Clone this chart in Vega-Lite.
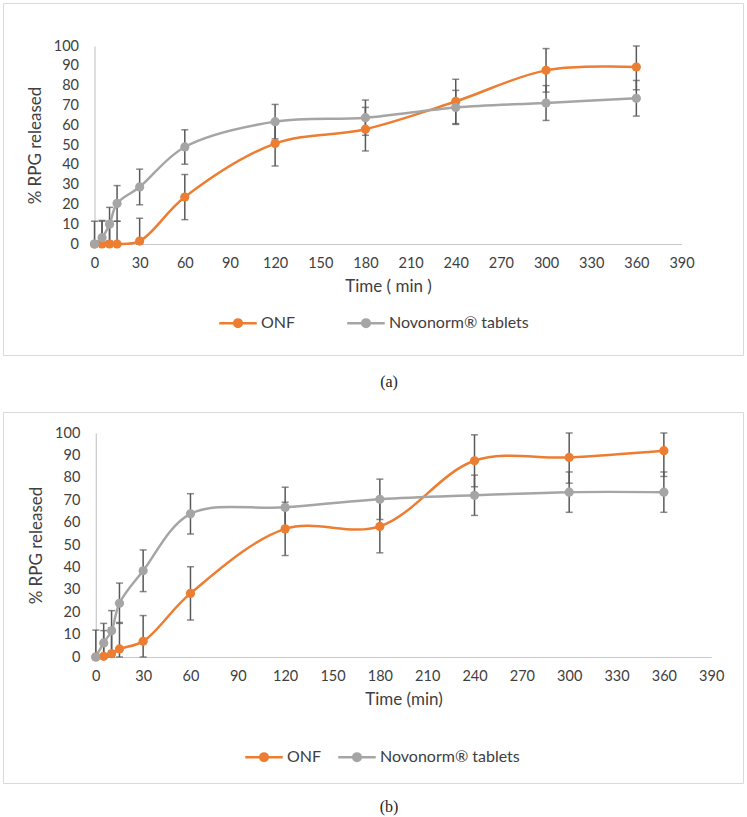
{
  "$schema": "https://vega.github.io/schema/vega-lite/v6.json",
  "padding": {"left": 2, "top": 2, "right": 0, "bottom": 0},
  "background": "white",
  "data": {"values": [
    {"p":"a","s":"ONF","t":0,"m":0,"e":11.5},
    {"p":"a","s":"ONF","t":5,"m":0,"e":11.5},
    {"p":"a","s":"ONF","t":10,"m":0,"e":11.5},
    {"p":"a","s":"ONF","t":15,"m":0,"e":11.5},
    {"p":"a","s":"ONF","t":30,"m":1.5,"e":11.5},
    {"p":"a","s":"ONF","t":60,"m":23.7,"e":11.4},
    {"p":"a","s":"ONF","t":120,"m":50.7,"e":11.3},
    {"p":"a","s":"ONF","t":180,"m":58,"e":11},
    {"p":"a","s":"ONF","t":240,"m":72,"e":11.2},
    {"p":"a","s":"ONF","t":300,"m":87.7,"e":11},
    {"p":"a","s":"ONF","t":360,"m":89.4,"e":11.5},
    {"p":"a","s":"Novonorm® tablets","t":0,"m":0,"e":0},
    {"p":"a","s":"Novonorm® tablets","t":5,"m":3.2,"e":8.7},
    {"p":"a","s":"Novonorm® tablets","t":10,"m":10,"e":8.5},
    {"p":"a","s":"Novonorm® tablets","t":15,"m":20.5,"e":9},
    {"p":"a","s":"Novonorm® tablets","t":30,"m":28.8,"e":9},
    {"p":"a","s":"Novonorm® tablets","t":60,"m":49,"e":8.7},
    {"p":"a","s":"Novonorm® tablets","t":120,"m":61.8,"e":8.7},
    {"p":"a","s":"Novonorm® tablets","t":180,"m":63.8,"e":8.9},
    {"p":"a","s":"Novonorm® tablets","t":240,"m":69,"e":8.6},
    {"p":"a","s":"Novonorm® tablets","t":300,"m":71.2,"e":8.8},
    {"p":"a","s":"Novonorm® tablets","t":360,"m":73.6,"e":9},
    {"p":"b","s":"ONF","t":0,"m":0,"e":12},
    {"p":"b","s":"ONF","t":5,"m":0.3,"e":11.5},
    {"p":"b","s":"ONF","t":10,"m":1.5,"e":11.5},
    {"p":"b","s":"ONF","t":15,"m":3.6,"e":11.8},
    {"p":"b","s":"ONF","t":30,"m":7,"e":11.5},
    {"p":"b","s":"ONF","t":60,"m":28.4,"e":11.9},
    {"p":"b","s":"ONF","t":120,"m":57.2,"e":11.9},
    {"p":"b","s":"ONF","t":180,"m":58.3,"e":11.8},
    {"p":"b","s":"ONF","t":240,"m":87.6,"e":11.6},
    {"p":"b","s":"ONF","t":300,"m":89.1,"e":11.5},
    {"p":"b","s":"ONF","t":360,"m":92.1,"e":11.5},
    {"p":"b","s":"Novonorm® tablets","t":0,"m":0,"e":0},
    {"p":"b","s":"Novonorm® tablets","t":5,"m":6.3,"e":8.7},
    {"p":"b","s":"Novonorm® tablets","t":10,"m":11.7,"e":9},
    {"p":"b","s":"Novonorm® tablets","t":15,"m":24,"e":9},
    {"p":"b","s":"Novonorm® tablets","t":30,"m":38.5,"e":9.3},
    {"p":"b","s":"Novonorm® tablets","t":60,"m":63.9,"e":9},
    {"p":"b","s":"Novonorm® tablets","t":120,"m":66.8,"e":9},
    {"p":"b","s":"Novonorm® tablets","t":180,"m":70.4,"e":9},
    {"p":"b","s":"Novonorm® tablets","t":240,"m":72.2,"e":9},
    {"p":"b","s":"Novonorm® tablets","t":300,"m":73.6,"e":9},
    {"p":"b","s":"Novonorm® tablets","t":360,"m":73.6,"e":9}
  ]},
  "spacing": 20,
  "resolve": {"legend": {"color": "independent"}},
  "vconcat": [
    {
      "width": 740,
      "height": 352,
      "title": {"text": "(a)", "orient": "bottom", "anchor": "middle", "offset": 19, "dx": 16},
      "transform": [{"filter": "datum.p == 'a'"}],
      "encoding": {
        "x": {"field": "t", "type": "quantitative",
          "scale": {"domain": [0, 390], "range": [91.5, 678.5], "nice": false},
          "axis": {"values": [0,30,60,90,120,150,180,210,240,270,300,330,360,390], "offset": -111, "title": "Time ( min )"}},
        "y": {"field": "m", "type": "quantitative",
          "scale": {"domain": [0, 100], "range": [241, 43], "nice": false, "clamp": true},
          "axis": {"values": [0,10,20,30,40,50,60,70,80,90,100], "offset": -91.5, "title": "% RPG released"}}
      },
      "layer": [
        {"mark": {"type": "errorbar", "color": "#595959", "thickness": 1.5, "ticks": {"size": 7, "color": "#595959", "strokeWidth": 1.5}},
         "encoding": {"yError": {"field": "e"}, "detail": {"field": "s"}}},
        {"mark": {"type": "line", "interpolate": "catmull-rom", "strokeWidth": 2.5},
         "encoding": {"color": {"field": "s", "type": "nominal", "scale": {"domain": ["ONF", "Novonorm® tablets"], "range": ["#ED7D31", "#A5A5A5"]},
           "legend": {"orient": "none", "direction": "horizontal", "legendX": 215, "legendY": 300, "columnPadding": 46,
             "encode": {"symbols": {"update": {"fill": {"scale": "color", "field": "value"}, "stroke": {"scale": "color", "field": "value"}, "strokeWidth": {"value": 2.5}}}}}}}},
        {"mark": {"type": "point", "filled": true, "size": 85, "opacity": 1},
         "encoding": {"color": {"field": "s", "type": "nominal",
           "legend": {"orient": "none", "direction": "horizontal", "legendX": 215, "legendY": 300, "columnPadding": 46,
             "encode": {"symbols": {"update": {"fill": {"scale": "color", "field": "value"}, "stroke": {"scale": "color", "field": "value"}, "strokeWidth": {"value": 2.5}}}}}}}}
      ]
    },
    {
      "width": 740,
      "height": 371,
      "title": {"text": "(b)", "orient": "bottom", "anchor": "middle", "offset": 16, "dx": 16},
      "transform": [{"filter": "datum.p == 'b'"}],
      "encoding": {
        "x": {"field": "t", "type": "quantitative",
          "scale": {"domain": [0, 390], "range": [92.8, 708.2], "nice": false},
          "axis": {"values": [0,30,60,90,120,150,180,210,240,270,300,330,360,390], "offset": -126, "title": "Time (min)"}},
        "y": {"field": "m", "type": "quantitative",
          "scale": {"domain": [0, 100], "range": [245, 21], "nice": false, "clamp": true},
          "axis": {"values": [0,10,20,30,40,50,60,70,80,90,100], "offset": -92.8, "title": "% RPG released"}}
      },
      "layer": [
        {"mark": {"type": "errorbar", "color": "#595959", "thickness": 1.5, "ticks": {"size": 7, "color": "#595959", "strokeWidth": 1.5}},
         "encoding": {"yError": {"field": "e"}, "detail": {"field": "s"}}},
        {"mark": {"type": "line", "interpolate": "catmull-rom", "strokeWidth": 2.5},
         "encoding": {"color": {"field": "s", "type": "nominal",
           "legend": {"orient": "none", "direction": "horizontal", "legendX": 241, "legendY": 325, "columnPadding": 11,
             "encode": {"symbols": {"update": {"fill": {"scale": "color", "field": "value"}, "stroke": {"scale": "color", "field": "value"}, "strokeWidth": {"value": 2.5}}}}}}}},
        {"mark": {"type": "point", "filled": true, "size": 85, "opacity": 1},
         "encoding": {"color": {"field": "s", "type": "nominal",
           "legend": {"orient": "none", "direction": "horizontal", "legendX": 241, "legendY": 325, "columnPadding": 11,
             "encode": {"symbols": {"update": {"fill": {"scale": "color", "field": "value"}, "stroke": {"scale": "color", "field": "value"}, "strokeWidth": {"value": 2.5}}}}}}}}
      ]
    }
  ],
  "config": {
    "font": "Lato",
    "view": {"stroke": "#D9D9D9", "strokeWidth": 1},
    "axis": {"grid": false, "ticks": false, "domainColor": "#C9C9C9", "domainWidth": 1.2,
      "labelFont": "Lato", "labelFontSize": 14.5, "labelColor": "#404040",
      "titleFont": "Lato", "titleFontSize": 17, "titleFontWeight": "normal", "titleColor": "#404040", "titlePadding": 9,
      "labelFlush": false, "labelOverlap": false},
    "axisX": {"labelPadding": 12},
    "axisY": {"labelPadding": 16},
    "legend": {"title": null, "symbolType": "M-1,0L1,0M-0.2,0A0.2,0.2,0,1,1,0.2,0A0.2,0.2,0,1,1,-0.2,0Z",
      "symbolSize": 1406, "symbolStrokeWidth": 2.5, "labelFont": "Lato", "labelFontSize": 16, "labelColor": "#404040",
      "labelOffset": 3, "padding": 0},
    "title": {"font": "Liberation Serif", "fontSize": 16, "fontWeight": "normal", "color": "#222222"}
  }
}
